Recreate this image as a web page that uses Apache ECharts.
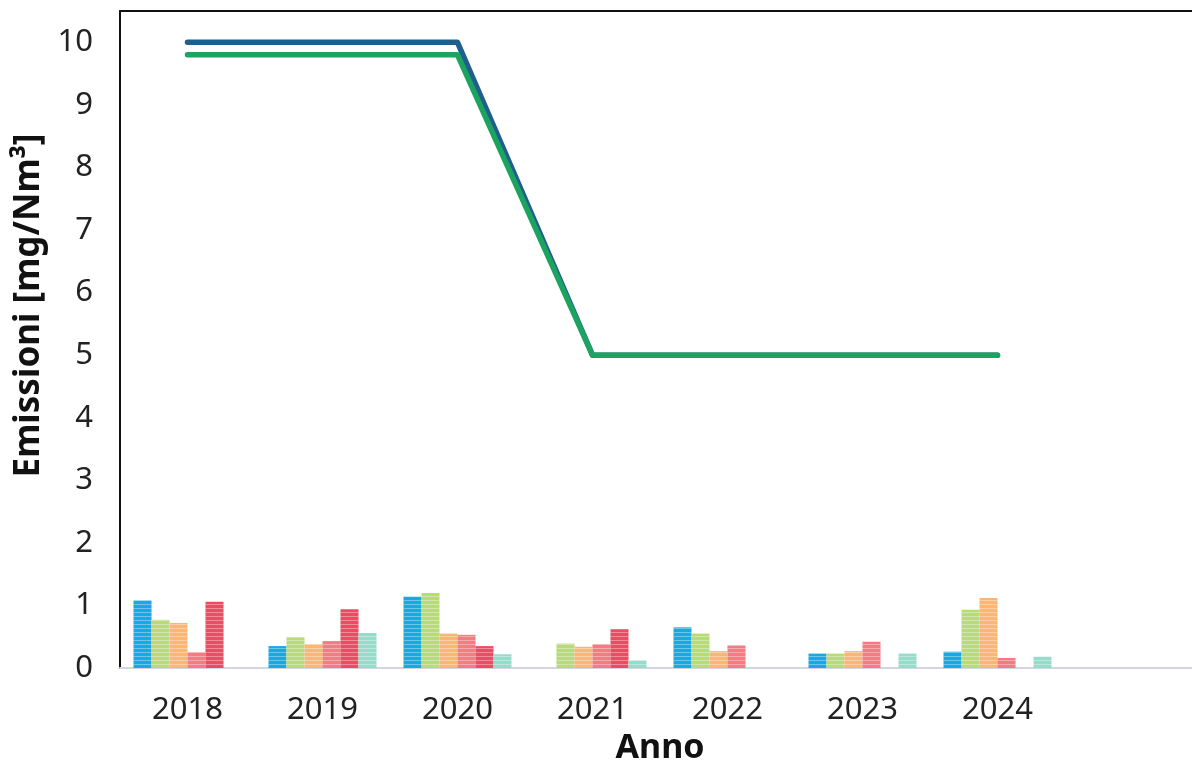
<!DOCTYPE html>
<html>
<head>
<meta charset="utf-8">
<script src="https://cdn.jsdelivr.net/npm/echarts@6/dist/echarts.min.js"></script>
<style>
  html, body { margin: 0; padding: 0; background: #fff; }
  #chart { width: 1192px; height: 761px; }
</style>
</head>
<body>
<div id="chart"></div>
<script>
// anni (l'ultima colonna è vuota, come nell'originale)
var anni = ['2018', '2019', '2020', '2021', '2022', '2023', '2024', ''];

// limiti (linee)
var limiteA = [10, 10, 10, 5, 5, 5, 5];
var limiteB = [9.8, 9.8, 9.8, 5, 5, 5, 5];

// emissioni misurate (barre), una serie per punto di misura
var misura1 = [1.08, 0.35, 1.14, 0, 0.65, 0.23, 0.26];
var misura2 = [0.77, 0.49, 1.2, 0.39, 0.55, 0.23, 0.93];
var misura3 = [0.72, 0.38, 0.55, 0.34, 0.27, 0.27, 1.12];
var misura4 = [0.25, 0.43, 0.53, 0.38, 0.36, 0.42, 0.16];
var misura5 = [1.06, 0.94, 0.35, 0.62, 0, 0, 0];
var misura6 = [0, 0.56, 0.22, 0.12, 0, 0.23, 0.18];

var coloriBarre = ['#1aa8e2', '#b9da78', '#fbb574', '#f37b82', '#ea4d63', '#97dccb'];
var tickY = [0, 1, 2, 3, 4, 5, 6, 7, 8, 9, 10];

function barra(dati, i) {
    return {
        type: 'bar',
        data: dati,
        barGap: 0,
        barCategoryGap: '20%',
        itemStyle: {
            color: coloriBarre[i],
            decal: {
                symbol: 'rect',
                symbolSize: 1,
                dashArrayX: [[1, 0]],
                dashArrayY: [1, 3],
                rotation: 0,
                color: 'rgba(255,255,255,0.35)'
            }
        },
        z: 2
    };
}

var chart = echarts.init(document.getElementById('chart'));

var option = {
    animation: false,
    aria: { decal: { show: true } },
    textStyle: { fontFamily: 'Noto Sans' },
    grid: {
        left: 120,
        top: 11,
        width: 1080,
        height: 657,
        containLabel: false,
        outerBoundsMode: 'none'
    },
    xAxis: [{
        type: 'category',
        data: anni,
        name: 'Anno',
        nameLocation: 'middle',
        nameGap: 77,
        nameTextStyle: { fontSize: 34, fontWeight: 'bold', color: '#111', verticalAlign: 'middle' },
        axisLine: { lineStyle: { color: '#d4d4e2', width: 2 } },
        axisTick: { show: false },
        axisLabel: { fontSize: 31, color: '#222', margin: 27 }
    }, {
        type: 'category',
        data: anni,
        position: 'top',
        axisLine: { lineStyle: { color: '#111', width: 2 } },
        axisTick: { show: false },
        axisLabel: { show: false }
    }],
    yAxis: {
        type: 'value',
        min: 0,
        max: 10.5,
        interval: 1,
        name: 'Emissioni [mg/Nm³]',
        nameLocation: 'middle',
        nameRotate: 90,
        nameGap: 72,
        nameTextStyle: { fontSize: 35, fontWeight: 'bold', color: '#111', padding: [0, 0, 0, 68] },
        axisLine: { show: true, lineStyle: { color: '#111', width: 2 } },
        axisTick: { show: false },
        splitLine: { show: false },
        axisLabel: {
            fontSize: 31,
            color: '#222',
            margin: 27,
            showMaxLabel: false,
            formatter: function (v) {
                return tickY.indexOf(v) >= 0 ? String(v) : '';
            }
        }
    },
    series: [
        barra(misura1, 0),
        barra(misura2, 1),
        barra(misura3, 2),
        barra(misura4, 3),
        barra(misura5, 4),
        barra(misura6, 5),
        {
            type: 'line',
            data: limiteA,
            symbol: 'none',
            lineStyle: { color: '#1f5f8c', width: 5.5, cap: 'round', join: 'round' },
            z: 5
        },
        {
            type: 'line',
            data: limiteB,
            symbol: 'none',
            lineStyle: { color: '#1ba35f', width: 5.5, cap: 'round', join: 'round' },
            z: 6
        }
    ]
};

chart.setOption(option);
</script>
</body>
</html>
